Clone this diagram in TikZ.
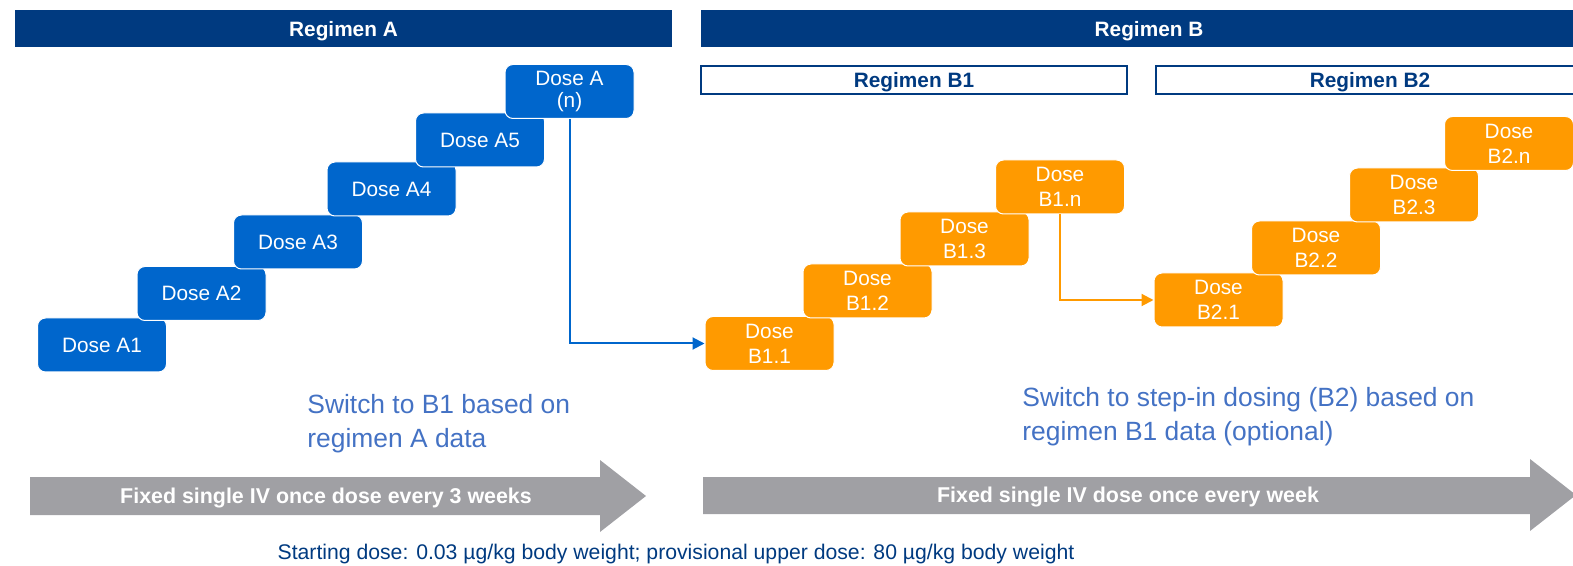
\documentclass[tikz,border=0pt]{standalone}
\usepackage{fontspec}
\setmainfont{Liberation Sans}
\usetikzlibrary{arrows.meta,positioning}
\definecolor{navy}{HTML}{003A80}
\definecolor{doseblue}{HTML}{0066CC}
\definecolor{doseorange}{HTML}{FF9A00}
\definecolor{arrowgrey}{HTML}{A0A0A4}
\definecolor{notetext}{HTML}{4472C4}

\begin{document}
\begin{tikzpicture}[x=0.5pt,y=-0.5pt,
    bar/.style={fill=navy, text=white, inner sep=0pt, minimum height=18.5pt, text depth=0pt,
        font=\bfseries\fontsize{10.4}{12}\selectfont},
    subbar/.style={draw=navy, line width=0.8pt, fill=white, text=navy, inner sep=0pt,
        minimum height=14pt, text depth=0pt, font=\bfseries\fontsize{10.4}{12}\selectfont},
    doseA/.style={rounded corners=4pt, fill=doseblue, draw=white, line width=0.5pt,
        text=white, minimum width=64.5pt, minimum height=27pt, inner sep=0pt,
        align=center, font=\fontsize{10.4}{12.5}\selectfont},
    doseB/.style={doseA, fill=doseorange},
    switchto/.style={-{Triangle[length=6pt,width=6pt]}, line width=1pt},
    note/.style={text=notetext, anchor=north west, inner sep=0pt, align=left,
        font=\fontsize{13.2}{16.8}\selectfont},
    band/.style={text=white, inner sep=0pt, text depth=0pt,
        font=\bfseries\fontsize{10.7}{12}\selectfont}]
    \useasboundingbox (0,0) rectangle (1573,566);

    % Headers
    \node[bar, minimum width=328.5pt] (regA) at (343.5,29) {Regimen A};
    \node[bar, minimum width=448pt] (regB) at (1149,29) {Regimen B};
    \node[subbar, minimum width=213pt] (regB1) at (914,80) {Regimen B1};
    \node[subbar, minimum width=214pt] (regB2) at (1370,80) {Regimen B2};

    % Regimen A doses
    \foreach \name/\x/\y/\label in {A1/102/345/Dose A1, A2/201.5/293.5/Dose A2,
        A3/298/242/Dose A3, A4/391.5/189/Dose A4, A5/480/140/Dose A5}
        \node[doseA] (\name) at (\x,\y) {\label};
    \node[doseA, font=\fontsize{10.4}{11}\selectfont] (An) at (569.5,91.5) {Dose A\\(n)};

    % Regimen B doses
    \foreach \name/\x/\y/\label in {B11/769.5/343.5/B1.1, B12/867.5/291/B1.2,
        B13/964.5/239/B1.3, B1n/1060/187/B1.n, B21/1218.5/300/B2.1,
        B22/1316/248/B2.2, B23/1414/195/B2.3, B2n/1509/143.5/B2.n}
        \node[doseB] (\name) at (\x,\y) {Dose\\\label};

    % Switches
    \draw[switchto, doseblue] (An.south) |- (B11.west);
    \draw[switchto, doseorange] (B1n.south) |- (B21.west);
    \node[note] (noteA) at (307,394) {Switch to B1 based on\\regimen A data};
    \node[note] (noteB) at (1022,387) {Switch to step-in dosing (B2) based on\\regimen B1 data (optional)};

    % Schedule arrows
    \fill[arrowgrey] (30,477) -- (600,477) -- (600,460) -- (646,496) -- (600,532)
        -- (600,515) -- (30,515) -- cycle;
    \node[band] (schedA) at (326,496) {Fixed single IV once dose every 3 weeks};
    \fill[arrowgrey] (703,477) -- (1530,477) -- (1530,459) -- (1576,495) -- (1530,531)
        -- (1530,514) -- (703,514) -- cycle;
    \node[band] (schedB) at (1128,495) {Fixed single IV dose once every week};

    \node[text=navy, inner sep=0pt, font=\fontsize{10.6}{12}\selectfont] (dosing) at (676,554)
        {Starting dose: 0.03 µg/kg body weight; provisional upper dose: 80 µg/kg body weight};
\end{tikzpicture}
\end{document}
